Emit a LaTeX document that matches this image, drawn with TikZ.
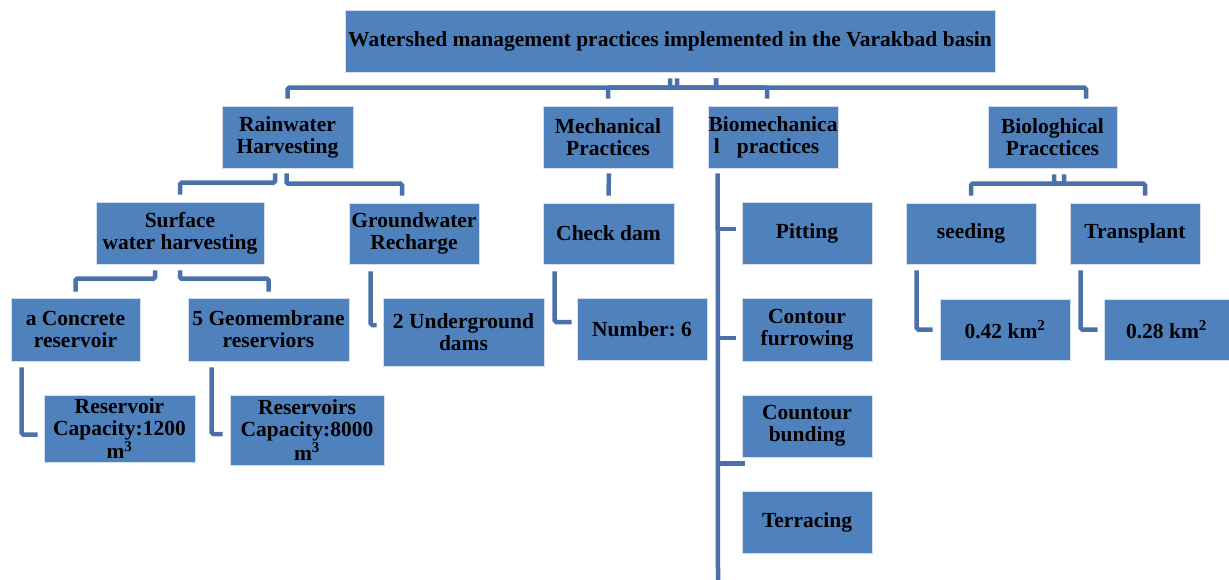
\documentclass[tikz,border=0pt]{standalone}
\usepackage{fontspec}
\setmainfont{Liberation Serif}
\frenchspacing
\definecolor{boxblue}{HTML}{4F81BD}
\definecolor{linkblue}{HTML}{4A71A9}
\begin{document}
\begin{tikzpicture}[x=1pt,y=-1pt,
  box/.style={draw=white!75!boxblue, line width=0.6pt, fill=boxblue, align=center, inner sep=0pt,
    font=\fontsize{21.5}{22}\selectfont\bfseries, minimum width=130pt, minimum height=62pt},
  link/.style={draw=linkblue, line width=4.5pt, rounded corners=1.5pt}]
\useasboundingbox (0,0) rectangle (1229,580);
\node[box, minimum width=650pt] (top) at (670,41) {Watershed management practices implemented in the Varakbad basin};
\node[box, minimum width=131pt] (rain) at (287.5,137) {Rainwater\\Harvesting};
\node[box] (mech) at (608,137) {Mechanical\\Practices};
\node[box] (biomech) at (773,137) {Biomechanica\\l\hspace{0.8em}practices\hspace*{0.6em}};
\node[box, minimum width=129pt] (bio) at (1052.5,137) {Biologhical\\Pracctices};
\node[box, minimum width=168pt] (surface) at (180,233) {Surface\\water harvesting};
\node[box, minimum height=61pt] (ground) at (414,233.5) {Groundwater\\Recharge};
\node[box, minimum width=131pt, minimum height=61pt] (checkdam) at (608.5,233.5) {Check dam};
\node[box] (pitting) at (807,233) {Pitting};
\node[box, minimum height=61pt] (seeding) at (971,233.5) {seeding};
\node[box, minimum height=61pt] (transplant) at (1135,233.5) {Transplant};
\node[box, minimum width=129pt, minimum height=63pt] (concrete) at (75.5,329.5) {a Concrete\\reservoir};
\node[box, minimum width=161pt, minimum height=63pt] (geomem) at (268.5,329.5) {5 Geomembrane\\reserviors};
\node[box, minimum width=161pt, minimum height=68pt] (underground) at (463.5,332) {2 Underground\\dams};
\node[box] (number) at (642,329) {Number: 6};
\node[box, minimum height=63pt] (furrowing) at (807,329.5) {Contour\\furrowing};
\node[box, minimum height=61pt] (seedarea) at (1005,329.5) {0.42 km\textsuperscript{2}};
\node[box, minimum width=125pt, minimum height=61pt] (plantarea) at (1166.5,329.5) {0.28 km\textsuperscript{2}};
\node[box, minimum width=151pt, minimum height=67pt] (reservoir) at (119.5,428.5) {Reservoir\\Capacity:1200\\m\textsuperscript{3}};
\node[box, minimum width=154pt, minimum height=70pt] (reservoirs) at (307,430) {Reservoirs\\Capacity:8000\\m\textsuperscript{3}};
\node[box] (bunding) at (807,426) {Countour\\bunding};
\node[box] (terracing) at (807,522) {Terracing};
\coordinate (trunk) at ([xshift=10pt,yshift=-5pt]biomech.south west);
\coordinate (trunkend) at (718,580);

\draw[link] ([xshift=7pt,yshift=-6pt]top.south) |- ([yshift=18pt]rain.north) -- ([yshift=7pt]rain.north);
\draw[link] ([xshift=46pt,yshift=-6pt]top.south) |- ([yshift=18pt]mech.north) -- ([yshift=7pt]mech.north);
\draw[link] ([xshift=46pt,yshift=-6pt]top.south) |- ([xshift=-6pt,yshift=18pt]biomech.north) -- ([xshift=-6pt,yshift=7pt]biomech.north);
\draw[link] ([yshift=-6pt]top.south) |- ([xshift=33.5pt,yshift=18pt]bio.north) -- ([xshift=33.5pt,yshift=7pt]bio.north);

\draw[link] ([xshift=-12.5pt,yshift=-5pt]rain.south) |- ([yshift=19pt]surface.north) -- ([yshift=7pt]surface.north);
\draw[link] ([xshift=-1pt,yshift=-5pt]rain.south) |- ([xshift=-12pt,yshift=19pt]ground.north) -- ([xshift=-12pt,yshift=7pt]ground.north);
\draw[link] ([xshift=1pt,yshift=-5pt]mech.south) -- ([yshift=7pt]checkdam.north);
\draw[link] (trunk) -- (trunkend);
\draw[link] ([xshift=11.5pt,yshift=-6pt]bio.south) |- ([yshift=19pt]seeding.north) -- ([yshift=7pt]seeding.north);
\draw[link] ([xshift=1.5pt,yshift=-6pt]bio.south) |- ([xshift=10pt,yshift=19pt]transplant.north) -- ([xshift=10pt,yshift=7pt]transplant.north);

\draw[link] ([xshift=-25pt,yshift=-6pt]surface.south) |- ([yshift=19pt]concrete.north) -- ([yshift=6pt]concrete.north);
\draw[link] ([yshift=-6pt]surface.south) |- ([yshift=19pt]geomem.north) -- ([yshift=6pt]geomem.north);
\draw[link] ([xshift=22pt,yshift=-7pt]ground.south west) |- ([xshift=-6pt,yshift=7pt]underground.west);
\draw[link] ([xshift=12pt,yshift=-7pt]checkdam.south west) |- ([xshift=-5pt,yshift=7pt]number.west);
\draw[link] ([xshift=11pt,yshift=-6pt]seeding.south west) |- ([xshift=-7pt]seedarea.west);
\draw[link] ([xshift=11pt,yshift=-6pt]transplant.south west) |- ([xshift=-6pt]plantarea.west);

\draw[link] ([xshift=11pt,yshift=-6pt]concrete.south west) |- ([xshift=-6pt,yshift=-6pt]reservoir.west);
\draw[link] ([xshift=24pt,yshift=-6pt]geomem.south west) |- ([xshift=-7pt,yshift=-4pt]reservoirs.west);

\draw[link] ([yshift=4pt]pitting.west -| trunk) -- ([xshift=-6pt,yshift=4pt]pitting.west);
\draw[link] ([yshift=-8.5pt]furrowing.west -| trunk) -- ([xshift=-6pt,yshift=-8.5pt]furrowing.west);
\draw[link] ([yshift=-6pt]bunding.south west -| trunk) -- ([xshift=3pt,yshift=-6pt]bunding.south west);
\end{tikzpicture}
\end{document}
